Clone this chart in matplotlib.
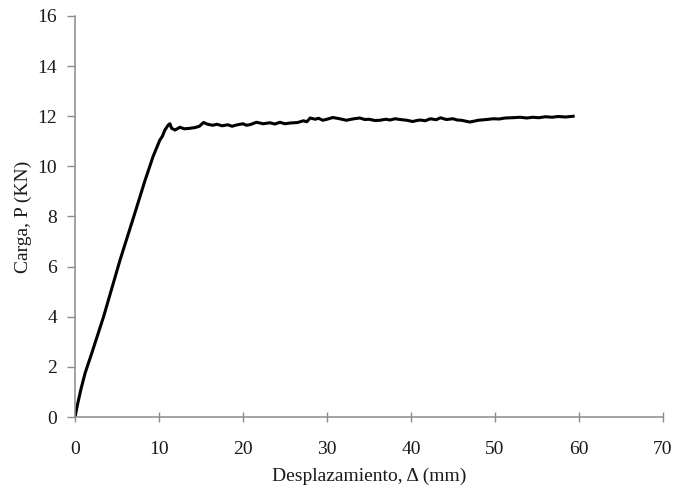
import matplotlib
matplotlib.use("Agg")
import matplotlib.pyplot as plt

# Data
desplazamiento = [0, 0.3, 0.7, 1.2, 2.0, 3.4, 5.36, 7.0, 8.3, 9.3, 10.1, 10.4,
                  10.7, 11.1, 11.3, 11.5, 11.9, 12.5, 13.0, 13.7, 14.3, 14.8, 15.3, 15.8,
                  16.4, 16.9, 17.5, 18.2, 18.7, 19.2, 20.0, 20.4, 20.8, 21.6, 22.4, 23.2,
                  23.8, 24.4, 25.0, 25.6, 26.5, 27.2, 27.6, 28.0, 28.6, 29.0, 29.5, 30.0,
                  30.7, 31.5, 32.3, 33.2, 33.9, 34.5, 35.0, 35.7, 36.3, 37.0, 37.5, 38.1,
                  38.7, 39.5, 40.2, 40.7, 41.1, 41.7, 42.3, 43.0, 43.5, 44.2, 45.0, 45.5,
                  46.0, 47.0, 47.6, 48.0, 49.0, 49.8, 50.5, 51.2, 52.0, 53.0, 53.8, 54.5,
                  55.2, 56.0, 56.8, 57.5, 58.4, 59.3]
carga = [0, 0.5, 1.1, 1.75, 2.55, 4.0, 6.26, 8.0, 9.4, 10.4, 11.05, 11.2,
         11.45, 11.65, 11.7, 11.52, 11.45, 11.56, 11.5, 11.52, 11.55, 11.6, 11.75, 11.68,
         11.64, 11.68, 11.62, 11.66, 11.6, 11.65, 11.7, 11.64, 11.66, 11.76, 11.7, 11.74,
         11.69, 11.76, 11.7, 11.73, 11.75, 11.82, 11.78, 11.93, 11.88, 11.92, 11.84, 11.88,
         11.95, 11.9, 11.84, 11.9, 11.93, 11.87, 11.88, 11.83, 11.84, 11.88, 11.85, 11.9,
         11.87, 11.84, 11.79, 11.83, 11.85, 11.82, 11.9, 11.86, 11.94, 11.87, 11.9, 11.85,
         11.84, 11.77, 11.81, 11.84, 11.87, 11.9, 11.89, 11.93, 11.94, 11.96, 11.93, 11.96,
         11.94, 11.98, 11.96, 11.99, 11.97, 12.0]
x_ticks = [0, 10, 20, 30, 40, 50, 60, 70]
y_ticks = [0, 2, 4, 6, 8, 10, 12, 14, 16]

plt.rcParams['font.family'] = ['Liberation Serif', 'DejaVu Serif']

fig = plt.figure(figsize=(6.78, 4.90), dpi=100)
ax = fig.add_axes([75/678, 73/490, 588/678, 401/490])

ax.plot(desplazamiento, carga, color='black', linewidth=2.2, solid_joinstyle='round')

ax.set_xlim(0, 70)
ax.set_ylim(0, 16)
ax.set_xticks(x_ticks)
ax.set_yticks(y_ticks)

for s in ['top', 'right']:
    ax.spines[s].set_visible(False)
for s in ['left', 'bottom']:
    ax.spines[s].set_color('#8c8c8c')
    ax.spines[s].set_linewidth(1.1)

ax.tick_params(axis='y', direction='out', length=6, width=1, color='#8c8c8c',
               labelsize=14, pad=7, labelcolor='#1a1a1a')
ax.tick_params(axis='x', direction='inout', length=7, width=1, color='#8c8c8c',
               labelsize=14, pad=14, labelcolor='#1a1a1a')

ax.set_xlabel('Desplazamiento, Δ (mm)', fontsize=14, labelpad=7, color='#1a1a1a')
ax.set_ylabel('Carga, P (KN)', fontsize=14, labelpad=4, color='#1a1a1a')

fig.savefig('out.png', dpi=100)
